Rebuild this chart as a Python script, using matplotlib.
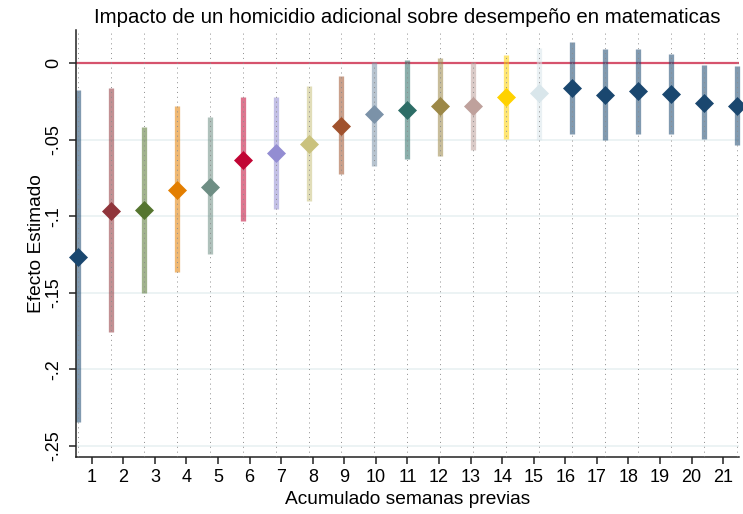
import numpy as np
import matplotlib
matplotlib.use('Agg')
import matplotlib.pyplot as plt

plt.rcParams['font.family'] = ['Liberation Sans', 'DejaVu Sans']

# semanas acumuladas 1..21
semanas = list(range(1, 22))
coef = [-0.1265, -0.0963, -0.0961, -0.0826, -0.0808, -0.0635, -0.0587, -0.0526,
        -0.0409, -0.0330, -0.0304, -0.0283, -0.0278, -0.0222, -0.0196, -0.0163,
        -0.0207, -0.0181, -0.0202, -0.0257, -0.0278]
ci_low = [-0.2347, -0.1760, -0.1499, -0.1362, -0.1250, -0.1033, -0.0952, -0.0898,
          -0.0722, -0.0674, -0.0626, -0.0609, -0.0570, -0.0495, -0.0500, -0.0465,
          -0.0504, -0.0461, -0.0461, -0.0495, -0.0533]
ci_high = [-0.0174, -0.0163, -0.0419, -0.0278, -0.0352, -0.0224, -0.0220, -0.0146,
           -0.0083, 0.0010, 0.0022, 0.0037, 0.0007, 0.0054, 0.0098, 0.0141,
           0.0091, 0.0091, 0.0061, -0.0011, -0.0018]

# paleta s2color de Stata
colores = ['#1a476f', '#90353b', '#55752f', '#e37e00', '#6e8e84', '#c10534',
           '#938dd2', '#cac27e', '#a0522d', '#7b92a8', '#2d6d66', '#9c8847',
           '#bfa19c', '#ffd200', '#d9e6eb'] + ['#1a476f'] * 6

yticks = [0, -0.05, -0.1, -0.15, -0.2, -0.25]
ytick_labels = ['0', '-.05', '-.1', '-.15', '-.2', '-.25']

fig = plt.figure(figsize=(7.43, 5.14), dpi=100)
ax = fig.add_axes([76 / 743, 1 - 457 / 514, 663 / 743, 427 / 514])

x0, x1 = 0.952, 21.05
ax.set_xlim(x0, x1)
ax.set_ylim(-0.2574, 0.0217)

# grid
for yv in yticks:
    ax.axhline(yv, color='#eaf2f3', lw=1.3, zorder=1)
for s in semanas:
    ax.axvline(s, color='#8c8c8c', lw=0.7, ls=(0, (1, 4)), zorder=3)

ax.axhline(0, color='#d6536d', lw=1.6, zorder=2)

for s, c, lo, hi, col in zip(semanas, coef, ci_low, ci_high, colores):
    ax.plot([s, s], [lo, hi], color=col, lw=3.8, alpha=0.55,
            solid_capstyle='butt', zorder=2.5, clip_on=False)
    ax.plot(s, c, marker='D', ms=9.3, color=col, mec=col, mew=0.5,
            zorder=4, clip_on=False)

# etiquetas del eje x repartidas a lo ancho del eje
xt = [x0 + (k - 0.5) / len(semanas) * (x1 - x0) for k in semanas]
ax.set_xticks(xt)
ax.set_xticklabels([str(s) for s in semanas], fontsize=13)
ax.set_yticks(yticks)
ax.set_yticklabels(ytick_labels, fontsize=13, rotation=90, va='center')

ax.tick_params(axis='both', direction='out', length=5, width=1.1, color='#222222')
ax.tick_params(axis='x', pad=4)
ax.tick_params(axis='y', pad=5)

for side in ['top', 'right']:
    ax.spines[side].set_visible(False)
for side in ['left', 'bottom']:
    ax.spines[side].set_linewidth(1.1)
    ax.spines[side].set_color('#222222')

ax.set_xlabel('Acumulado semanas previas', fontsize=13.8, labelpad=3)
ax.set_ylabel('Efecto Estimado', fontsize=13.8, labelpad=0)
ax.set_title('Impacto de un homicidio adicional sobre desempeño en matematicas',
             fontsize=14.7, pad=5)

fig.savefig('out.png', dpi=100)
